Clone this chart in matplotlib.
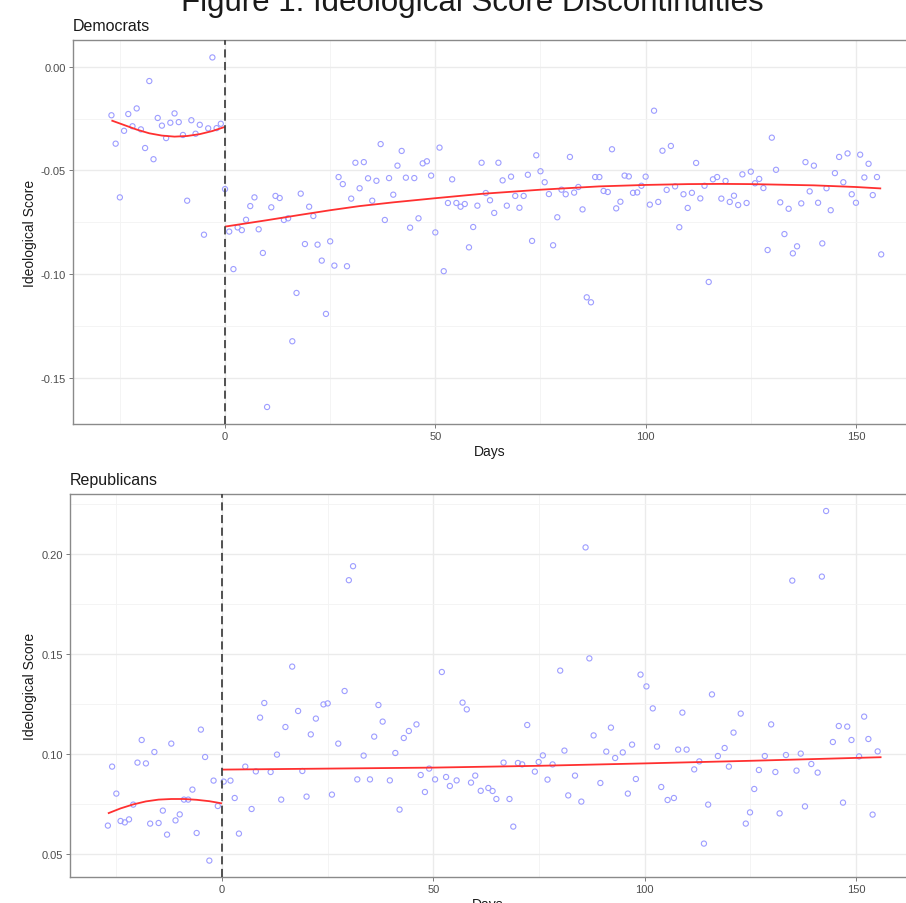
import matplotlib
matplotlib.use("Agg")
import matplotlib.pyplot as plt
import numpy as np

plt.rcParams['font.family'] = ['Liberation Sans', 'DejaVu Sans']

TITLE = 'Figure 1: Ideological Score Discontinuities'

# Democrats: before the cutoff (days -27 .. -1)
dem_pre_days = list(range(-27, 0))
dem_pre_score = [-0.0234, -0.0371, -0.0630, -0.0309, -0.0228, -0.0287, -0.0201, -0.0302,
                 -0.0392, -0.0069, -0.0446, -0.0247, -0.0284, -0.0344, -0.0270, -0.0225,
                 -0.0267, -0.0329, -0.0646, -0.0258, -0.0323, -0.0280, -0.0810, -0.0297,
                 0.0045, -0.0296, -0.0275]

# Democrats: after the cutoff (days 0 .. 156)
dem_post_days = list(range(0, 157))
dem_post_score = [
    -0.0590, -0.0795, -0.0976, -0.0775, -0.0788, -0.0738, -0.0672, -0.0630, -0.0784, -0.0898,
    -0.1641, -0.0678, -0.0623, -0.0633, -0.0739, -0.0731, -0.1324, -0.1091, -0.0612, -0.0855,
    -0.0675, -0.0720, -0.0858, -0.0935, -0.1192, -0.0842, -0.0959, -0.0532, -0.0566, -0.0962,
    -0.0636, -0.0463, -0.0586, -0.0460, -0.0538, -0.0646, -0.0550, -0.0373, -0.0739, -0.0537,
    -0.0617, -0.0477, -0.0406, -0.0535, -0.0776, -0.0537, -0.0731, -0.0466, -0.0456, -0.0525,
    -0.0799, -0.0390, -0.0986, -0.0657, -0.0543, -0.0657, -0.0675, -0.0662, -0.0871, -0.0773,
    -0.0670, -0.0463, -0.0609, -0.0644, -0.0705, -0.0463, -0.0548, -0.0670, -0.0530, -0.0623,
    -0.0680, -0.0623, -0.0521, -0.0840, -0.0427, -0.0504, -0.0557, -0.0614, -0.0861, -0.0726,
    -0.0593, -0.0615, -0.0435, -0.0607, -0.0580, -0.0688, -0.1112, -0.1136, -0.0532, -0.0532,
    -0.0599, -0.0604, -0.0398, -0.0683, -0.0651, -0.0525, -0.0529, -0.0608, -0.0606, -0.0574,
    -0.0530, -0.0665, -0.0212, -0.0652, -0.0405, -0.0594, -0.0382, -0.0577, -0.0774, -0.0615,
    -0.0681, -0.0608, -0.0464, -0.0635, -0.0574, -0.1038, -0.0543, -0.0532, -0.0636, -0.0551,
    -0.0652, -0.0622, -0.0667, -0.0519, -0.0657, -0.0506, -0.0562, -0.0541, -0.0585, -0.0884,
    -0.0342, -0.0497, -0.0654, -0.0807, -0.0685, -0.0900, -0.0866, -0.0659, -0.0460, -0.0601,
    -0.0477, -0.0656, -0.0852, -0.0586, -0.0692, -0.0513, -0.0435, -0.0557, -0.0418, -0.0615,
    -0.0656, -0.0424, -0.0534, -0.0468, -0.0619, -0.0532, -0.0905]

# Democrats: fitted curves
dem_fit_pre_days = [-27, -24, -21, -18, -15, -12, -9, -6, -3, 0]
dem_fit_pre = [-0.0259, -0.0281, -0.0303, -0.0321, -0.0332, -0.0337, -0.0334, -0.0325,
               -0.0310, -0.0290]
dem_fit_post_days = [0, 10, 18, 25, 32, 40, 50, 61, 75, 89, 100, 110, 118, 125, 140, 150, 156]
dem_fit_post = [-0.0771, -0.0740, -0.0714, -0.0692, -0.0672, -0.0654, -0.0634, -0.0613,
                -0.0593, -0.0577, -0.0570, -0.0566, -0.0565, -0.0566, -0.0572, -0.0580,
                -0.0587]

# Republicans: before the cutoff
rep_pre_days = [-27, -26, -25, -24, -23, -22, -21, -20, -19, -18, -17, -16, -15, -14,
                -13, -12, -11, -10, -9, -8, -7, -6, -5, -4, -3, -2, -1]
rep_pre_score = [0.0642, 0.0937, 0.0802, 0.0665, 0.0658, 0.0673, 0.0747, 0.0957, 0.1070,
                 0.0953, 0.0652, 0.1010, 0.0655, 0.0717, 0.0597, 0.1052, 0.0668, 0.0698,
                 0.0772, 0.0772, 0.0822, 0.0605, 0.1122, 0.0985, 0.0467, 0.0867, 0.0740]

# Republicans: after the cutoff
rep_post_days = [
    0.4, 2, 3, 4, 5.5, 7, 8, 9, 10, 11.5, 13, 14, 15, 16.6, 18, 19, 20, 21, 22.2, 24,
    25, 26, 27.5, 29, 30, 31, 32, 33.5, 35, 36, 37, 38, 39.7, 41, 42, 43, 44.2, 46, 47, 48,
    49, 50.4, 52, 53, 53.9, 55.5, 56.9, 57.9, 58.9, 59.9, 61.2, 63, 64, 64.9, 66.6, 68, 68.9,
    70, 71, 72.2, 74, 74.9, 75.9, 77, 78.2, 80, 81, 81.9, 83.5, 85, 86, 86.9, 87.9, 89.5,
    90.9, 92, 93, 94.8, 96, 97, 97.9, 99, 100.4, 101.9, 102.9, 103.9, 105.4, 106.9, 107.9,
    108.9, 109.9, 111.7, 112.9, 114, 115, 115.9, 117.3, 118.9, 119.9, 121, 122.7, 123.9,
    124.9, 125.9, 127, 128.4, 129.9, 130.9, 131.9, 133.4, 134.9, 135.9, 136.9, 137.9, 139.4,
    140.9, 141.9, 142.9, 144.5, 145.9, 146.9, 147.9, 148.9, 150.7, 151.9, 152.9, 153.9, 155.1]
rep_post_score = [
    0.0862, 0.0867, 0.0780, 0.0602, 0.0937, 0.0725, 0.0913, 0.1182, 0.1255, 0.0910, 0.0997,
    0.0772, 0.1135, 0.1437, 0.1215, 0.0915, 0.0787, 0.1098, 0.1177, 0.1248, 0.1253, 0.0797,
    0.1052, 0.1315, 0.1869, 0.1939, 0.0873, 0.0992, 0.0873, 0.1087, 0.1245, 0.1162, 0.0868,
    0.1005, 0.0722, 0.1080, 0.1115, 0.1148, 0.0895, 0.0810, 0.0927, 0.0873, 0.1410, 0.0885,
    0.0840, 0.0868, 0.1257, 0.1223, 0.0857, 0.0892, 0.0816, 0.0830, 0.0815, 0.0775, 0.0957,
    0.0775, 0.0637, 0.0955, 0.0948, 0.1145, 0.0912, 0.0960, 0.0993, 0.0872, 0.0948, 0.1417,
    0.1017, 0.0793, 0.0892, 0.0762, 0.2033, 0.1478, 0.1093, 0.0855, 0.1012, 0.1132, 0.0980,
    0.1008, 0.0802, 0.1047, 0.0875, 0.1397, 0.1338, 0.1228, 0.1037, 0.0835, 0.0770, 0.0780,
    0.1022, 0.1207, 0.1022, 0.0923, 0.0963, 0.0552, 0.0747, 0.1298, 0.0990, 0.1030, 0.0937,
    0.1107, 0.1202, 0.0652, 0.0708, 0.0825, 0.0920, 0.0990, 0.1148, 0.0910, 0.0703, 0.0995,
    0.1867, 0.0917, 0.1002, 0.0738, 0.0950, 0.0907, 0.1887, 0.2215, 0.1060, 0.1140, 0.0757,
    0.1137, 0.1070, 0.0988, 0.1187, 0.1075, 0.0697, 0.1013]

# Republicans: fitted curves
rep_fit_pre_days = [-27, -24, -21, -18, -15, -12, -9, -6, -3, 0]
rep_fit_pre = [0.0703, 0.0728, 0.0748, 0.0763, 0.0772, 0.0775, 0.0775, 0.0771, 0.0764, 0.0753]
rep_fit_post_days = [0, 25, 50, 75, 100, 125, 156]
rep_fit_post = [0.0922, 0.0927, 0.0932, 0.0941, 0.0953, 0.0966, 0.0984]

x_ticks = [0, 50, 100, 150]
x_minor = [-25, 25, 75, 125]
dem_y_ticks = [0.00, -0.05, -0.10, -0.15]
rep_y_ticks = [0.05, 0.10, 0.15, 0.20]

POINT_COLOR = '#9d9dff'
LINE_COLOR = '#ff3030'


def panel(ax, name, pts, fits, yticks, xlim, ylim):
    for d, s in pts:
        ax.scatter(d, s, s=14, facecolors='none', edgecolors=POINT_COLOR,
                   linewidths=0.8, zorder=3)
    for d, s in fits:
        ax.plot(d, s, color=LINE_COLOR, lw=1.3, zorder=4, solid_capstyle='butt')
    ax.axvline(0, color='#444444', lw=1.3, ls=(0, (4.5, 2.5)), zorder=5)

    ax.set_xticks(x_ticks)
    ax.set_xticks(x_minor, minor=True)
    ax.set_yticks(yticks)
    ax.set_yticklabels([f'{t:.2f}' for t in yticks])
    ax.set_yticks([t + 0.025 for t in yticks], minor=True)
    # limits after the ticks, so the ticks do not stretch them
    ax.set_xlim(*xlim)
    ax.set_ylim(*ylim)

    ax.grid(which='major', color='#ebebeb', lw=1.0)
    ax.grid(which='minor', color='#f3f3f3', lw=0.6)
    ax.set_axisbelow(True)
    ax.tick_params(which='major', labelsize=8, colors='#666666', length=3, width=0.6,
                   labelcolor='#4d4d4d', pad=2)
    ax.tick_params(which='minor', length=0)
    for side in ['left', 'top', 'bottom']:
        ax.spines[side].set_color('#8a8a8a')
        ax.spines[side].set_linewidth(1.0)
    ax.spines['right'].set_visible(False)
    ax.set_xlabel('Days', fontsize=10, color='#1a1a1a', labelpad=2)
    ax.set_ylabel('Ideological Score', fontsize=10, color='#1a1a1a', labelpad=3)
    ax.set_title(name, loc='left', fontsize=11.5, color='#1a1a1a', pad=7)


fig = plt.figure(figsize=(9.06, 9.04), dpi=100)
fig.text(0.521, 1 - 11 / 904, TITLE, ha='center', va='baseline', fontsize=22.5,
         color='#1a1a1a')

ax1 = fig.add_axes([73 / 906, 1 - 425 / 904, 1 - 73 / 906, 384 / 904])
panel(ax1, 'Democrats',
      [(dem_pre_days, dem_pre_score), (dem_post_days, dem_post_score)],
      [(dem_fit_pre_days, dem_fit_pre), (dem_fit_post_days, dem_fit_post)],
      dem_y_ticks, (-36.14, 161.9), (-0.1723, 0.0129))

ax2 = fig.add_axes([70 / 906, 1 - 878 / 904, 1 - 70 / 906, 383 / 904])
panel(ax2, 'Republicans',
      [(rep_pre_days, rep_pre_score), (rep_post_days, rep_post_score)],
      [(rep_fit_pre_days, rep_fit_pre), (rep_fit_post_days, rep_fit_post)],
      rep_y_ticks, (-35.96, 161.8), (0.0385, 0.2300))

fig.savefig('out.png', dpi=100)
